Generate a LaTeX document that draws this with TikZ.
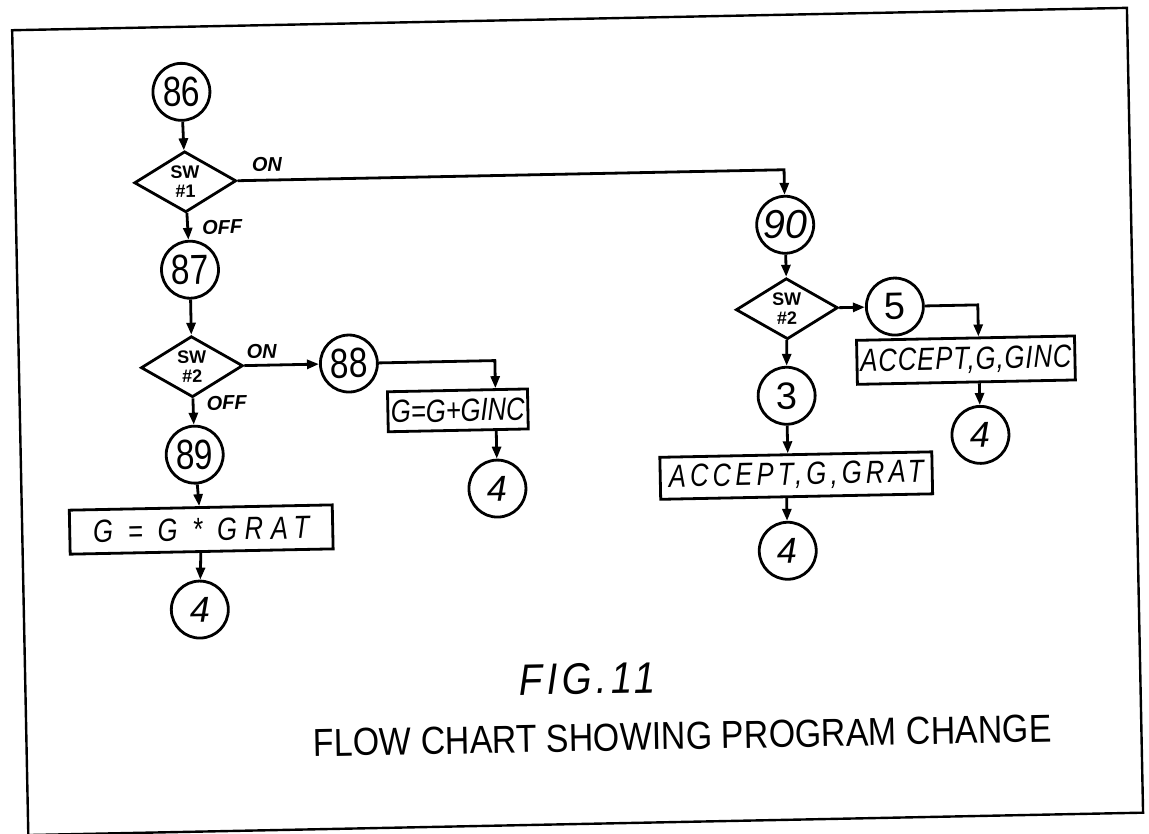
\documentclass[tikz,border=0pt]{standalone}
\usepackage{fontspec}
\setmainfont{Liberation Sans}
\newfontfamily\numf[FakeStretch=0.8]{Liberation Sans}
\newfontfamily\boxf[FakeStretch=0.8]{Liberation Sans}
\newfontfamily\capf[FakeStretch=0.87]{Liberation Sans}
\usetikzlibrary{shapes.geometric,arrows.meta}
\begin{document}
\begin{tikzpicture}[x=1pt,y=-1pt,
  conn/.style={line width=2.8pt},
  arr/.style={conn,-{Triangle[length=12pt,width=9pt]}},
  circ/.style={draw,circle,line width=2.8pt,minimum size=57pt,inner sep=0pt},
  bignum/.style={font=\numf\fontsize{42}{42}\selectfont},
  smallnum/.style={font=\fontsize{36}{36}\selectfont\itshape},
  dia/.style={draw,diamond,line width=2.8pt,minimum width=102pt,minimum height=61pt,inner sep=0pt,align=center,font=\bfseries\fontsize{18}{19}\selectfont},
  proc/.style={draw,rectangle,line width=2.8pt,inner sep=0pt,font=\boxf\itshape\fontsize{32}{32}\selectfont},
  lab/.style={font=\bfseries\itshape\fontsize{20}{20}\selectfont},
]
\useasboundingbox (0,0) rectangle (1149,833);
\fill[white] (0,0) rectangle (1149,833);
\begin{scope}[rotate around={1.15:(575,416)},transform shape]
\draw[line width=2.4pt] (20,19) rectangle (1135,824);
% left column
\node[circ,bignum] (n86) at (188,84) {86};
\node[dia] (sw1) at (190,174) {SW\\\#1};
\node[circ,bignum] (n87) at (193,262) {87};
\node[dia] (sw2) at (193,359) {SW\\\#2};
\node[circ,bignum] (n88) at (350,359) {88};
\node[circ,bignum] (n89) at (194,447) {89};
\node[proc,minimum width=263pt,minimum height=44pt] (gmul) at (199,522) {\addfontfeature{LetterSpace=24}G = G * GRAT};
\node[circ,smallnum] (n4a) at (196,602) {4};
\node[proc,minimum width=140pt,minimum height=40pt] (gadd) at (458,408) {G=G+GINC};
\node[circ,smallnum] (n4b) at (496,487) {4};
% right column
\node[circ,bignum,font=\fontsize{40}{40}\selectfont\itshape] (n90) at (789,229) {90};
\node[dia] (sw2r) at (789,313) {SW\\\#2};
\node[circ,smallnum,font=\fontsize{38}{38}\selectfont] (n5) at (897,313) {5};
\node[proc,minimum width=218pt,minimum height=44pt] (ginc) at (967,368) {\addfontfeature{LetterSpace=3}ACCEPT,G,GINC};
\node[circ,smallnum] (n4d) at (980,443) {4};
\node[circ,smallnum,font=\fontsize{38}{38}\selectfont] (n3) at (787,400) {3};
\node[proc,minimum width=272pt,minimum height=42pt] (grat) at (795,480) {\addfontfeature{LetterSpace=13}ACCEPT,G,GRAT};
\node[circ,smallnum] (n4c) at (785,555) {4};
% labels
\node[lab] (on1) at (272,158) {ON};
\node[lab] (off1) at (226,220) {OFF};
\node[lab] (on2) at (263,345) {ON};
\node[lab] (off2) at (227,396) {OFF};
% caption
\node[font=\capf\itshape\fontsize{44}{44}\selectfont] (fig) at (582,679) {\addfontfeature{LetterSpace=10}FIG.11};
\node[font=\capf\fontsize{39}{39}\selectfont] (cap) at (676,738) {FLOW CHART SHOWING PROGRAM CHANGE};
% connectors
\draw[arr] (n86) -- (sw1);
\draw[arr] (sw1.east) -| (n90.north);
\draw[arr] (sw1) -- (n87);
\draw[arr] (n87) -- (sw2);
\draw[arr] (sw2.east) -- (n88.west);
\draw[arr] (n88.east) -| (gadd.north -| n4b);
\draw[arr] (gadd.south -| n4b) -- (n4b);
\draw[arr] (sw2) -- (n89);
\draw[arr] (n89) -- (gmul);
\draw[arr] (gmul) -- (n4a);
\draw[arr] (n90) -- (sw2r);
\draw[arr] (sw2r.east) -- (n5.west);
\draw[arr] (n5.east) -| (ginc.north -| n4d);
\draw[arr] (ginc.south -| n4d) -- (n4d);
\draw[arr] (sw2r) -- (n3);
\draw[arr] (n3) -- (n3 |- grat.north);
\draw[arr] (grat.south -| n4c) -- (n4c);
\end{scope}
\end{tikzpicture}
\end{document}
